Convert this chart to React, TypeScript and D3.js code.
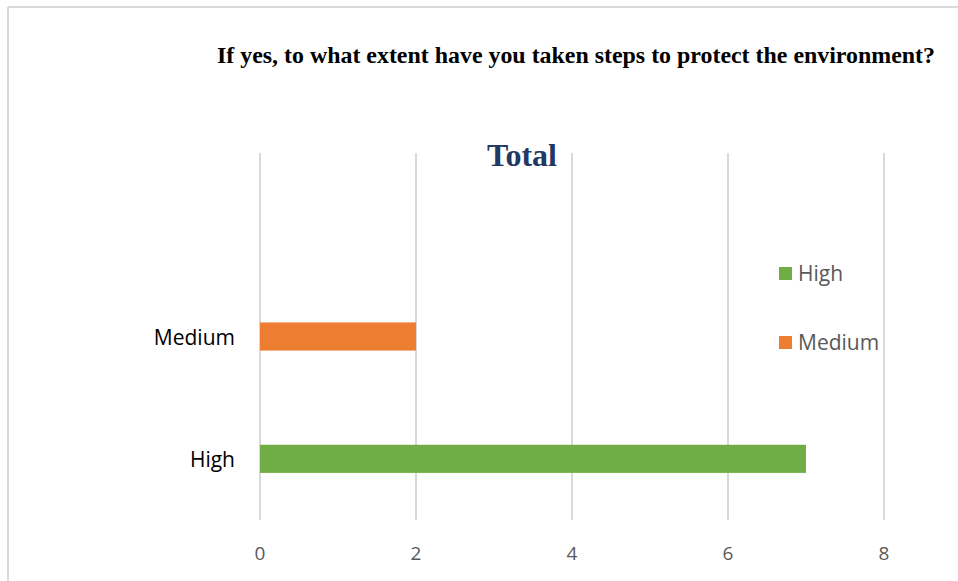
import React from "react";
import * as d3 from "d3";

const categories = ["", "Medium", "High"];
const values = [null, 2, 7];
const barColors = ["none", "#ED7D31", "#70AD47"];
const xTicks = [0, 2, 4, 6, 8];
const legendItems = ["High", "Medium"];
const legendColors = ["#70AD47", "#ED7D31"];

const W = 958;
const H = 581;

export default function App() {
  const x = d3.scaleLinear().domain([0, 8]).range([260, 884]);
  const y = d3.scaleBand<string>().domain(categories).range([153, 520]).paddingInner(0.77).paddingOuter(0.385);
  const bandC = (c: string) => (y(c) as number) + y.bandwidth() / 2;
  const sans = "'Open Sans', 'Noto Sans', sans-serif";
  return (
    <svg width={W} height={H} style={{ position: "absolute", left: 0, top: 0, background: "#fff" }}>
      <rect x={0} y={0} width={W} height={H} fill="#fff" />
      {/* frame */}
      <line x1={8} y1={7} x2={W} y2={7} stroke="#d9d9d9" strokeWidth={2} />
      <line x1={8} y1={7} x2={8} y2={H} stroke="#d9d9d9" strokeWidth={2} />
      <text x={217} y={63} textLength={718} lengthAdjust="spacingAndGlyphs" fontFamily="'Liberation Serif', serif" fontWeight="bold" fontSize={22.5} fill="#000">
        If yes, to what extent have you taken steps to protect the environment?
      </text>
      <text x={522} y={166} textAnchor="middle" fontFamily="'Liberation Serif', serif" fontWeight="bold" fontSize={32} fill="#1F3864">
        Total
      </text>
      {xTicks.map((t) => (
        <g key={t}>
          <line x1={x(t)} x2={x(t)} y1={153} y2={520} stroke="#d9d9d9" strokeWidth={2} />
          <text x={x(t)} y={560} textAnchor="middle" fontFamily={sans} fontSize={19} fill="#595959">{t}</text>
        </g>
      ))}
      {categories.map((c, i) =>
        values[i] == null ? null : (
          <g key={c}>
            <rect x={x(0)} y={y(c)} width={x(values[i] as number) - x(0)} height={y.bandwidth()} fill={barColors[i]} />
            <text x={235} y={bandC(c) + 8} textAnchor="end" fontFamily={sans} fontSize={21} fill="#000">{c}</text>
          </g>
        )
      )}
      {legendItems.map((l, i) => (
        <g key={l} transform={`translate(779, ${267 + i * 69})`}>
          <rect x={0} y={0} width={13} height={13} fill={legendColors[i]} />
          <text x={19} y={14} fontFamily={sans} fontSize={21} fill="#595959">{l}</text>
        </g>
      ))}
    </svg>
  );
}
